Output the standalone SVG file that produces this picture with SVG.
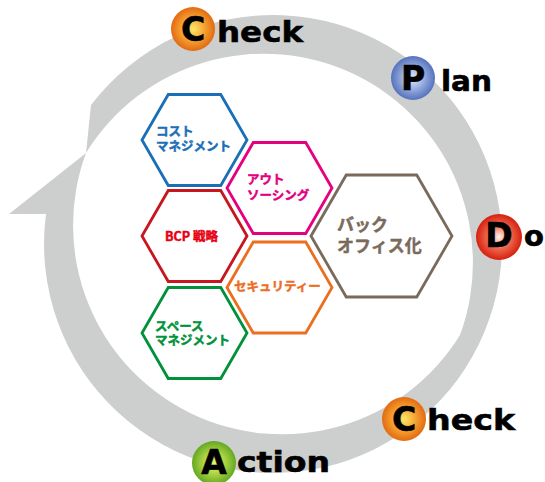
<svg xmlns="http://www.w3.org/2000/svg" width="545" height="482" viewBox="0 0 545 482">
<style>
.hex{fill:#fff;stroke-width:2.8;stroke-linejoin:miter}
.jp{font-family:"Noto Sans CJK JP","Noto Sans",sans-serif;font-weight:700;stroke-width:0.45}
.big{font-family:"DejaVu Sans","Liberation Sans",sans-serif;font-weight:700;fill:#000;stroke:#000;stroke-width:0.6}
.ltr{font-family:"DejaVu Sans","Liberation Sans",sans-serif;font-weight:700;fill:#000;stroke:#000;stroke-width:0.6;font-size:33px;text-anchor:middle}
</style>
<defs>
<radialGradient id="gO" cx="50%" cy="50%" r="50%"><stop offset="0" stop-color="#ffe866"/><stop offset="0.55" stop-color="#f4a030"/><stop offset="1" stop-color="#e36a12"/></radialGradient>
<radialGradient id="gB" cx="50%" cy="50%" r="50%"><stop offset="0" stop-color="#e4ecfa"/><stop offset="0.55" stop-color="#90a8dc"/><stop offset="1" stop-color="#5672bc"/></radialGradient>
<radialGradient id="gR" cx="50%" cy="50%" r="50%"><stop offset="0" stop-color="#fff4ec"/><stop offset="0.5" stop-color="#f06a50"/><stop offset="1" stop-color="#d4200e"/></radialGradient>
<radialGradient id="gG" cx="50%" cy="50%" r="50%"><stop offset="0" stop-color="#e8f470"/><stop offset="0.55" stop-color="#a6d040"/><stop offset="1" stop-color="#62a822"/></radialGradient>
</defs>
<g id="cycle">
<path d="M 91 105 A 229 229 0 1 1 46 214 L 9 214 L 86 153 A 209 209 0 0 0 460 335 A 209 209 0 0 0 86 153 Z" fill="#cdcfce"/>
</g>
<g id="hex-cost">
<polygon class="hex" stroke="#1a6fb6" points="142,140 168.25,94.5 220.75,94.5 247,140 220.75,185.5 168.25,185.5"/>
<text class="jp" fill="#1a6fb6" stroke="#1a6fb6" font-size="12.5" x="156" y="136">コスト</text>
<text class="jp" fill="#1a6fb6" stroke="#1a6fb6" font-size="12.5" x="156" y="151">マネジメント</text>
</g>
<g id="hex-bcp">
<polygon class="hex" stroke="#c7161e" points="142,236 168.25,190.5 220.75,190.5 247,236 220.75,281.5 168.25,281.5"/>
<text class="jp" fill="#e60012" stroke="#e60012" font-size="12.5" x="165" y="241">BCP 戦略</text>
</g>
<g id="hex-space">
<polygon class="hex" stroke="#00913a" points="142,333 168.25,287.5 220.75,287.5 247,333 220.75,378.5 168.25,378.5"/>
<text class="jp" fill="#00913a" stroke="#00913a" font-size="12.5" x="155" y="331">スペース</text>
<text class="jp" fill="#00913a" stroke="#00913a" font-size="12.5" x="155" y="345">マネジメント</text>
</g>
<g id="hex-out">
<polygon class="hex" stroke="#e4007f" points="227,188 253.25,142.5 305.75,142.5 332,188 305.75,233.5 253.25,233.5"/>
<text class="jp" fill="#e4007f" stroke="#e4007f" font-size="12.5" x="247" y="184">アウト</text>
<text class="jp" fill="#e4007f" stroke="#e4007f" font-size="12.5" x="247" y="200">ソーシング</text>
</g>
<g id="hex-sec">
<polygon class="hex" stroke="#ec6e1f" points="227,287.5 253.25,242 305.75,242 332,287.5 305.75,333 253.25,333"/>
<text class="jp" fill="#ec6e1f" stroke="#ec6e1f" font-size="12.5" x="234" y="291">セキュリティー</text>
</g>
<g id="hex-back">
<polygon class="hex" stroke="#7a6a5b" points="311,236 346.25,175 416.75,175 452,236 416.75,297 346.25,297"/>
<text class="jp" fill="#7a6a5b" stroke="#7a6a5b" font-size="17" x="337" y="231">バック</text>
<text class="jp" fill="#7a6a5b" stroke="#7a6a5b" font-size="17" x="337" y="252">オフィス化</text>
</g>
<g id="check-top">
<circle cx="193" cy="29" r="22" fill="url(#gO)"/>
<text class="ltr" x="193" y="41">C</text>
<text class="big" font-size="29" x="217" y="42" textLength="86" lengthAdjust="spacingAndGlyphs">heck</text>
</g>
<g id="plan">
<circle cx="413" cy="78" r="22" fill="url(#gB)"/>
<text class="ltr" x="413" y="90">P</text>
<text class="big" font-size="29" x="441" y="91" textLength="51" lengthAdjust="spacingAndGlyphs">lan</text>
</g>
<g id="do">
<circle cx="499" cy="237" r="23" fill="url(#gR)"/>
<text class="ltr" x="499" y="247">D</text>
<text class="big" font-size="29" x="524" y="246">o</text>
</g>
<g id="check-bottom">
<circle cx="404" cy="419" r="22" fill="url(#gO)"/>
<text class="ltr" x="404" y="431">C</text>
<text class="big" font-size="29" x="427" y="430" textLength="88" lengthAdjust="spacingAndGlyphs">heck</text>
</g>
<g id="action">
<circle cx="214" cy="463" r="22" fill="url(#gG)"/>
<text class="ltr" x="214" y="474">A</text>
<text class="big" font-size="29" x="237" y="472" textLength="93" lengthAdjust="spacingAndGlyphs">ction</text>
</g>
</svg>
